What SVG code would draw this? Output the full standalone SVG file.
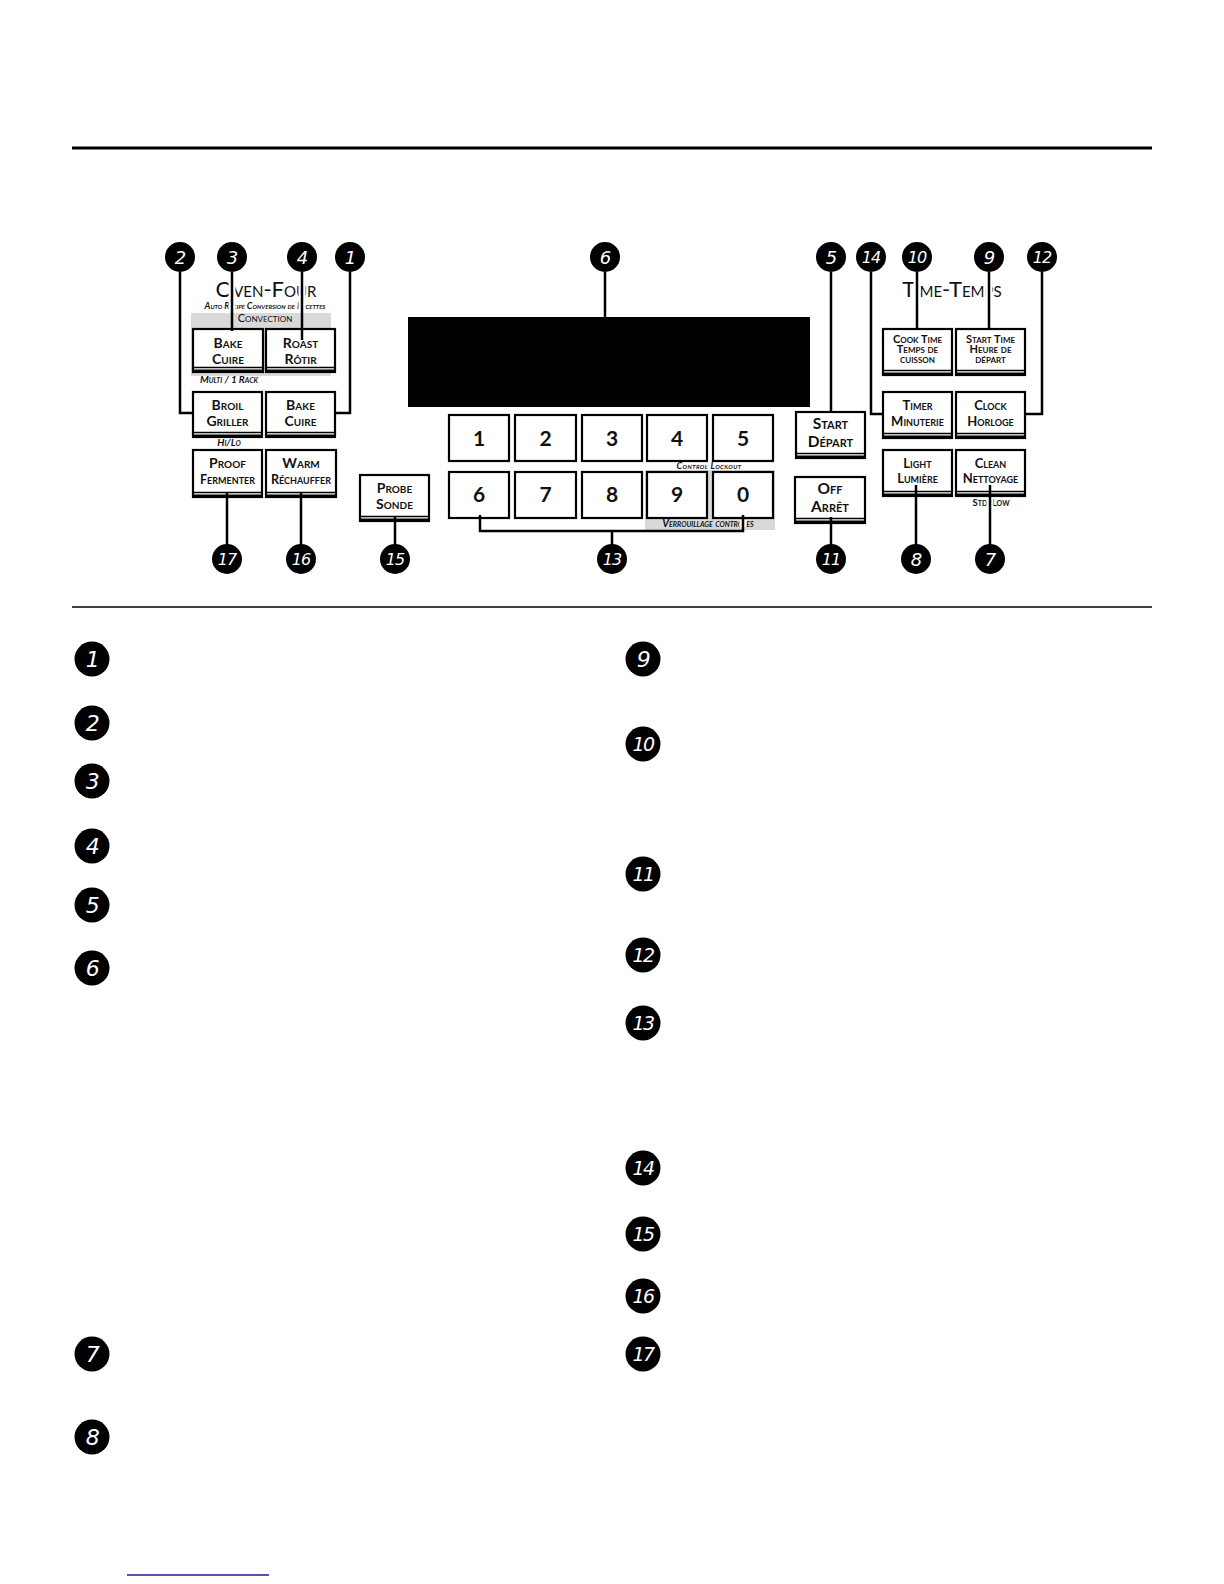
<svg xmlns="http://www.w3.org/2000/svg" width="1224" height="1584" viewBox="0 0 1224 1584">
<style>
  .rule{stroke:#000;}
  .box{fill:#fff;stroke:#000;stroke-width:2.2;}
  .bot{stroke:#000;stroke-width:1.3;}
  .botk{stroke:#000;stroke-width:3;}
  .key{fill:#fff;stroke:#000;stroke-width:2.2;}
  .bt{font-family:Lato,"Open Sans",sans-serif;font-weight:700;font-variant:small-caps;font-size:14px;text-anchor:middle;fill:#111;}
  .bt3{font-family:Lato,"Open Sans",sans-serif;font-weight:700;font-variant:small-caps;font-size:11px;text-anchor:middle;fill:#111;}
  .kt{font-family:Lato,"Open Sans",sans-serif;font-weight:700;font-size:21px;text-anchor:middle;fill:#111;}
  .title{font-family:Lato,"Open Sans",sans-serif;font-weight:400;font-variant:small-caps;font-size:22px;text-anchor:middle;fill:#111;}
  .sub{font-family:Lato,"Open Sans",sans-serif;font-weight:700;font-style:italic;font-variant:small-caps;font-size:9px;text-anchor:middle;fill:#111;}
  .conv{font-family:Lato,"Open Sans",sans-serif;font-weight:400;font-variant:small-caps;font-size:11px;text-anchor:middle;fill:#111;}
  .gray{fill:#d9d9d9;}
  .halo{fill:none;stroke:#fff;stroke-width:7;}
  .ln{fill:none;stroke:#000;stroke-width:2.5;}
  .badge{fill:#000;}
  .bn{font-family:"DejaVu Sans",sans-serif;font-style:italic;font-size:18px;text-anchor:middle;fill:#fff;letter-spacing:-1px;}
  .bnl{font-family:"DejaVu Sans",sans-serif;font-style:italic;font-size:22px;text-anchor:middle;fill:#fff;letter-spacing:-1.5px;}
</style>

<!-- rules -->
<line class="rule" x1="72" y1="148" x2="1152" y2="148" stroke-width="3"/>
<line class="rule" x1="72" y1="607" x2="1152" y2="607" stroke-width="1.5"/>
<line x1="127" y1="1575" x2="269" y2="1575" stroke="#1c1c8a" stroke-width="1.5"/>

<!-- panel backgrounds -->
<rect class="gray" x="191" y="313" width="140" height="63"/>
<rect class="gray" x="645" y="470" width="130" height="60"/>

<!-- titles -->
<g id="oven-title">
  <text class="title" x="266" y="297">Oven-Four</text>
  <text class="sub" x="265" y="309">Auto Recipe Conversion de Recettes</text>
  <text class="conv" x="265" y="322">Convection</text>
  <text class="sub" x="229" y="383" style="font-size:10px">Multi / 1 Rack</text>
  <text class="sub" x="229" y="446" style="font-size:10px">Hi/Lo</text>
</g>
<g id="time-title">
  <text class="title" x="952" y="297">Time-Temps</text>
</g>
<g id="lockout-labels">
  <text class="sub" x="709" y="469" style="font-size:9px;letter-spacing:0.4px">Control Lockout</text>
  <text class="sub" x="708" y="527" style="font-size:10.5px">Verrouillage contrôles</text>
  <text class="sub" x="991" y="506" style="font-style:normal;font-size:9.5px">Std/Low</text>
</g>

<!-- display -->
<g id="display"><rect x="408" y="317" width="402" height="90" fill="#000"/></g>

<!-- buttons -->
<g id="btn-bake-conv">
  <rect class="box" x="193" y="329" width="70" height="43"/>
  <line class="bot" x1="194" y1="367.5" x2="262" y2="367.5"/><line class="botk" x1="193" y1="371" x2="263" y2="371"/>
  <text class="bt" x="228" y="348">Bake</text><text class="bt" x="228" y="364">Cuire</text>
</g>
<g id="btn-roast">
  <rect class="box" x="266" y="329" width="69" height="43"/>
  <line class="bot" x1="267" y1="367.5" x2="334" y2="367.5"/><line class="botk" x1="266" y1="371" x2="335" y2="371"/>
  <text class="bt" x="300.5" y="348">Roast</text><text class="bt" x="300.5" y="364">Rôtir</text>
</g>
<g id="btn-broil">
  <rect class="box" x="193" y="392" width="69" height="45"/>
  <line class="bot" x1="194" y1="432.5" x2="261" y2="432.5"/><line class="botk" x1="193" y1="436" x2="262" y2="436"/>
  <text class="bt" x="227.5" y="410">Broil</text><text class="bt" x="227.5" y="426">Griller</text>
</g>
<g id="btn-bake">
  <rect class="box" x="266" y="392" width="69" height="45"/>
  <line class="bot" x1="267" y1="432.5" x2="334" y2="432.5"/><line class="botk" x1="266" y1="436" x2="335" y2="436"/>
  <text class="bt" x="300.5" y="410">Bake</text><text class="bt" x="300.5" y="426">Cuire</text>
</g>
<g id="btn-proof">
  <rect class="box" x="193" y="450" width="69" height="47"/>
  <line class="bot" x1="194" y1="492.5" x2="261" y2="492.5"/><line class="botk" x1="193" y1="496" x2="262" y2="496"/>
  <text class="bt" x="227.5" y="468">Proof</text><text class="bt" x="227.5" y="484" style="font-size:12.5px">Fermenter</text>
</g>
<g id="btn-warm">
  <rect class="box" x="266" y="450" width="70" height="47"/>
  <line class="bot" x1="267" y1="492.5" x2="335" y2="492.5"/><line class="botk" x1="266" y1="496" x2="336" y2="496"/>
  <text class="bt" x="301" y="468">Warm</text><text class="bt" x="301" y="484" style="font-size:12.5px">Réchauffer</text>
</g>
<g id="btn-probe">
  <rect class="box" x="360" y="475" width="69" height="46"/>
  <line class="bot" x1="361" y1="516.5" x2="428" y2="516.5"/><line class="botk" x1="360" y1="520" x2="429" y2="520"/>
  <text class="bt" x="394.5" y="493">Probe</text><text class="bt" x="394.5" y="509">Sonde</text>
</g>

<g id="keypad">
  <g id="key-1"><rect class="key" x="449" y="415" width="60" height="46"/><text class="kt" x="479" y="446">1</text></g>
  <g id="key-2"><rect class="key" x="515" y="415" width="61" height="46"/><text class="kt" x="545.5" y="446">2</text></g>
  <g id="key-3"><rect class="key" x="582" y="415" width="60" height="46"/><text class="kt" x="612" y="446">3</text></g>
  <g id="key-4"><rect class="key" x="647" y="415" width="60" height="46"/><text class="kt" x="677" y="446">4</text></g>
  <g id="key-5"><rect class="key" x="713" y="415" width="60" height="46"/><text class="kt" x="743" y="446">5</text></g>
  <g id="key-6"><rect class="key" x="449" y="472" width="60" height="46"/><text class="kt" x="479" y="502">6</text></g>
  <g id="key-7"><rect class="key" x="515" y="472" width="61" height="46"/><text class="kt" x="545.5" y="502">7</text></g>
  <g id="key-8"><rect class="key" x="582" y="472" width="60" height="46"/><text class="kt" x="612" y="502">8</text></g>
  <g id="key-9"><rect class="key" x="647" y="472" width="60" height="46"/><text class="kt" x="677" y="502">9</text></g>
  <g id="key-0"><rect class="key" x="713" y="472" width="60" height="46"/><text class="kt" x="743" y="502">0</text></g>
</g>

<g id="btn-start">
  <rect class="box" x="796" y="412" width="69" height="46"/>
  <line class="bot" x1="797" y1="453.5" x2="864" y2="453.5"/><line class="botk" x1="796" y1="457" x2="865" y2="457"/>
  <text class="bt" x="830.5" y="429" style="font-size:15.5px">Start</text><text class="bt" x="830.5" y="447" style="font-size:15.5px">Départ</text>
</g>
<g id="btn-off">
  <rect class="box" x="795" y="477" width="70" height="46"/>
  <line class="bot" x1="796" y1="518.5" x2="864" y2="518.5"/><line class="botk" x1="795" y1="522" x2="865" y2="522"/>
  <text class="bt" x="830" y="494" style="font-size:15.5px">Off</text><text class="bt" x="830" y="512" style="font-size:15.5px">Arrêt</text>
</g>
<g id="btn-cooktime">
  <rect class="box" x="883" y="329" width="69" height="46"/>
  <line class="bot" x1="884" y1="370.5" x2="951" y2="370.5"/><line class="botk" x1="883" y1="374" x2="952" y2="374"/>
  <text class="bt3" x="917.5" y="343">Cook Time</text><text class="bt3" x="917.5" y="353">Temps de</text><text class="bt3" x="917.5" y="363">cuisson</text>
</g>
<g id="btn-starttime">
  <rect class="box" x="956" y="329" width="69" height="46"/>
  <line class="bot" x1="957" y1="370.5" x2="1024" y2="370.5"/><line class="botk" x1="956" y1="374" x2="1025" y2="374"/>
  <text class="bt3" x="990.5" y="343">Start Time</text><text class="bt3" x="990.5" y="353">Heure de</text><text class="bt3" x="990.5" y="363">départ</text>
</g>
<g id="btn-timer">
  <rect class="box" x="883" y="392" width="69" height="46"/>
  <line class="bot" x1="884" y1="433.5" x2="951" y2="433.5"/><line class="botk" x1="883" y1="437" x2="952" y2="437"/>
  <text class="bt" x="917.5" y="410" style="font-size:13px">Timer</text><text class="bt" x="917.5" y="426" style="font-size:13px">Minuterie</text>
</g>
<g id="btn-clock">
  <rect class="box" x="956" y="392" width="69" height="46"/>
  <line class="bot" x1="957" y1="433.5" x2="1024" y2="433.5"/><line class="botk" x1="956" y1="437" x2="1025" y2="437"/>
  <text class="bt" x="990.5" y="410" style="font-size:13px">Clock</text><text class="bt" x="990.5" y="426" style="font-size:13px">Horloge</text>
</g>
<g id="btn-light">
  <rect class="box" x="883" y="450" width="69" height="46"/>
  <line class="bot" x1="884" y1="491.5" x2="951" y2="491.5"/><line class="botk" x1="883" y1="495" x2="952" y2="495"/>
  <text class="bt" x="917.5" y="468" style="font-size:13px">Light</text><text class="bt" x="917.5" y="483" style="font-size:13px">Lumière</text>
</g>
<g id="btn-clean">
  <rect class="box" x="956" y="450" width="69" height="46"/>
  <line class="bot" x1="957" y1="491.5" x2="1024" y2="491.5"/><line class="botk" x1="956" y1="495" x2="1025" y2="495"/>
  <text class="bt" x="990.5" y="468" style="font-size:13px">Clean</text><text class="bt" x="990.5" y="483" style="font-size:13px">Nettoyage</text>
</g>

<!-- connectors -->
<g id="connectors">
  <path class="halo" d="M180 272 V410"/>
  <path class="halo" d="M232 272 V311"/>
  <path class="halo" d="M302 272 V311"/>
  <path class="halo" d="M350 272 V410"/>
  <path class="halo" d="M917 272 V327"/>
  <path class="halo" d="M989 272 V327"/>
  <path class="halo" d="M871 272 V410"/>
  <path class="halo" d="M1042 272 V410"/>
  <path class="halo" d="M743 520 V527"/>
  <path class="halo" d="M990 498 V545"/>

  <path class="ln" d="M180 272 V413 H193"/>
  <path class="ln" d="M232 272 V331"/>
  <path class="ln" d="M302 272 V340"/>
  <path class="ln" d="M350 272 V413 H335"/>
  <path class="ln" d="M605 272 V318"/>
  <path class="ln" d="M831 272 V412"/>
  <path class="ln" d="M871 272 V414 H883"/>
  <path class="ln" d="M917 272 V330"/>
  <path class="ln" d="M989 272 V330"/>
  <path class="ln" d="M1042 272 V414 H1025"/>
  <path class="ln" d="M227 493 V545"/>
  <path class="ln" d="M301 493 V545"/>
  <path class="ln" d="M395 516 V545"/>
  <path class="ln" d="M480 515 V531 H743 V515 M612 531 V545"/>
  <path class="ln" d="M831 517 V545"/>
  <path class="ln" d="M916 485 V545"/>
  <path class="ln" d="M990 485 V545"/>
</g>

<!-- top callout badges -->
<g id="callout-2"><circle class="badge" cx="180" cy="257" r="15"/><text class="bn" x="180" y="264">2</text></g>
<g id="callout-3"><circle class="badge" cx="232" cy="257" r="15"/><text class="bn" x="232" y="264">3</text></g>
<g id="callout-4"><circle class="badge" cx="302" cy="257" r="15"/><text class="bn" x="302" y="264">4</text></g>
<g id="callout-1"><circle class="badge" cx="350" cy="257" r="15"/><text class="bn" x="350" y="264">1</text></g>
<g id="callout-6"><circle class="badge" cx="605" cy="257" r="15"/><text class="bn" x="605" y="264">6</text></g>
<g id="callout-5"><circle class="badge" cx="831" cy="257" r="15"/><text class="bn" x="831" y="264">5</text></g>
<g id="callout-14"><circle class="badge" cx="871" cy="257" r="15"/><text class="bn" x="871" y="263" style="font-size:16px">14</text></g>
<g id="callout-10"><circle class="badge" cx="917" cy="257" r="15"/><text class="bn" x="917" y="263" style="font-size:16px">10</text></g>
<g id="callout-9"><circle class="badge" cx="989" cy="257" r="15"/><text class="bn" x="989" y="264">9</text></g>
<g id="callout-12"><circle class="badge" cx="1042" cy="257" r="15"/><text class="bn" x="1042" y="263" style="font-size:16px">12</text></g>
<!-- bottom callout badges -->
<g id="callout-17"><circle class="badge" cx="227" cy="559" r="15"/><text class="bn" x="227" y="565" style="font-size:16px">17</text></g>
<g id="callout-16"><circle class="badge" cx="301" cy="559" r="15"/><text class="bn" x="301" y="565" style="font-size:16px">16</text></g>
<g id="callout-15"><circle class="badge" cx="395" cy="559" r="15"/><text class="bn" x="395" y="565" style="font-size:16px">15</text></g>
<g id="callout-13"><circle class="badge" cx="612" cy="559" r="15"/><text class="bn" x="612" y="565" style="font-size:16px">13</text></g>
<g id="callout-11"><circle class="badge" cx="831" cy="559" r="15"/><text class="bn" x="831" y="565" style="font-size:16px">11</text></g>
<g id="callout-8"><circle class="badge" cx="916" cy="559" r="15"/><text class="bn" x="916" y="566">8</text></g>
<g id="callout-7"><circle class="badge" cx="990" cy="559" r="15"/><text class="bn" x="990" y="566">7</text></g>

<!-- legend badges -->
<g id="legend-1"><circle class="badge" cx="92" cy="659" r="17.5"/><text class="bnl" x="92" y="667">1</text></g>
<g id="legend-2"><circle class="badge" cx="92" cy="723" r="17.5"/><text class="bnl" x="92" y="731">2</text></g>
<g id="legend-3"><circle class="badge" cx="92" cy="781" r="17.5"/><text class="bnl" x="92" y="789">3</text></g>
<g id="legend-4"><circle class="badge" cx="92" cy="846" r="17.5"/><text class="bnl" x="92" y="854">4</text></g>
<g id="legend-5"><circle class="badge" cx="92" cy="905" r="17.5"/><text class="bnl" x="92" y="913">5</text></g>
<g id="legend-6"><circle class="badge" cx="92" cy="968" r="17.5"/><text class="bnl" x="92" y="976">6</text></g>
<g id="legend-7"><circle class="badge" cx="92" cy="1354" r="17.5"/><text class="bnl" x="92" y="1362">7</text></g>
<g id="legend-8"><circle class="badge" cx="92" cy="1437" r="17.5"/><text class="bnl" x="92" y="1445">8</text></g>
<g id="legend-9"><circle class="badge" cx="643" cy="659" r="17.5"/><text class="bnl" x="643" y="667">9</text></g>
<g id="legend-10"><circle class="badge" cx="643" cy="744" r="17.5"/><text class="bnl" x="643" y="751" style="font-size:19px">10</text></g>
<g id="legend-11"><circle class="badge" cx="643" cy="874" r="17.5"/><text class="bnl" x="643" y="881" style="font-size:19px">11</text></g>
<g id="legend-12"><circle class="badge" cx="643" cy="955" r="17.5"/><text class="bnl" x="643" y="962" style="font-size:19px">12</text></g>
<g id="legend-13"><circle class="badge" cx="643" cy="1023" r="17.5"/><text class="bnl" x="643" y="1030" style="font-size:19px">13</text></g>
<g id="legend-14"><circle class="badge" cx="643" cy="1168" r="17.5"/><text class="bnl" x="643" y="1175" style="font-size:19px">14</text></g>
<g id="legend-15"><circle class="badge" cx="643" cy="1234" r="17.5"/><text class="bnl" x="643" y="1241" style="font-size:19px">15</text></g>
<g id="legend-16"><circle class="badge" cx="643" cy="1296" r="17.5"/><text class="bnl" x="643" y="1303" style="font-size:19px">16</text></g>
<g id="legend-17"><circle class="badge" cx="643" cy="1354" r="17.5"/><text class="bnl" x="643" y="1361" style="font-size:19px">17</text></g>
</svg>
